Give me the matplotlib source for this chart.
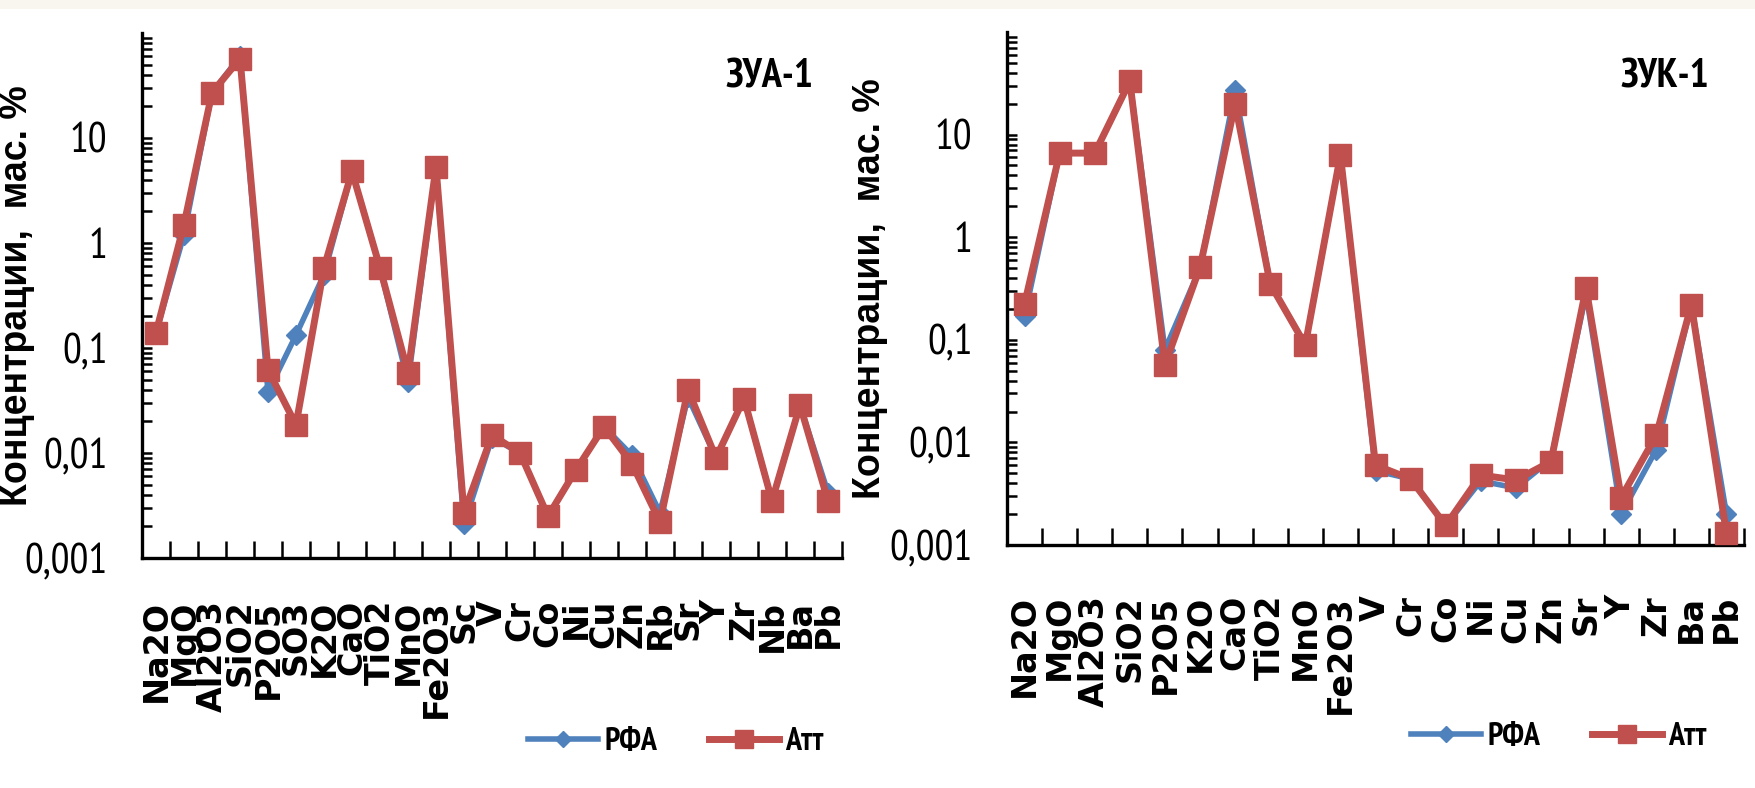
import matplotlib
matplotlib.use("Agg")
import matplotlib.pyplot as plt
import numpy as np
from matplotlib.ticker import LogLocator, NullFormatter, FixedLocator, FixedFormatter

# ---------------- data ----------------
cats_a = ["Na2O", "MgO", "Al2O3", "SiO2", "P2O5", "SO3", "K2O", "CaO", "TiO2", "MnO",
          "Fe2O3", "Sc", "V", "Cr", "Co", "Ni", "Cu", "Zn", "Rb", "Sr", "Y", "Zr",
          "Nb", "Ba", "Pb"]
rfa_a = [0.14, 1.2, 27, 60, 0.038, 0.133, 0.50, 4.8, 0.58, 0.047,
         5.3, 0.0021, 0.0140, 0.0100, 0.0025, 0.0069, 0.0178, 0.0095, 0.0027, 0.034,
         0.0090, 0.033, 0.0035, 0.0286, 0.0042]
att_a = [0.14, 1.5, 27, 57, 0.062, 0.0185, 0.58, 4.8, 0.58, 0.058,
         5.3, 0.0027, 0.0148, 0.0100, 0.0025, 0.0069, 0.0178, 0.0079, 0.0022, 0.040,
         0.0090, 0.033, 0.0035, 0.0286, 0.0035]

cats_k = ["Na2O", "MgO", "Al2O3", "SiO2", "P2O5", "K2O", "CaO", "TiO2", "MnO", "Fe2O3",
          "V", "Cr", "Co", "Ni", "Cu", "Zn", "Sr", "Y", "Zr", "Ba", "Pb"]
rfa_k = [0.17, 6.6, 6.6, 33, 0.080, 0.50, 27, 0.35, 0.089, 6.3,
         0.0053, 0.0044, 0.00155, 0.0042, 0.0036, 0.0068, 0.28, 0.0020, 0.0085, 0.22, 0.0020]
att_k = [0.224, 6.6, 6.6, 33, 0.057, 0.51, 20, 0.35, 0.089, 6.3,
         0.0060, 0.0044, 0.00155, 0.0048, 0.0043, 0.0065, 0.32, 0.0029, 0.0117, 0.22, 0.0013]

ytick_vals = [0.001, 0.01, 0.1, 1, 10]
ytick_labels = ["0,001", "0,01", "0,1", "1", "10"]
ylabel = "Концентрации,  мас. %"
series_names = ["РФА", "Атт"]
titles = ["ЗУА-1", "ЗУК-1"]

# ---------------- style ----------------
W, H = 1756, 788
DPI = 100
BLUE = "#4F81BD"
RED = "#C0504D"
NARROW = ["PT Sans Narrow", "Liberation Sans", "DejaVu Sans"]
LIB = ["Liberation Sans", "DejaVu Sans"]
DJ = ["DejaVu Sans"]

fig = plt.figure(figsize=(W / DPI, H / DPI), dpi=DPI)
fig.patch.set_facecolor("white")
fig.patches.append(plt.Rectangle((0, 1 - 9 / H), 1, 9 / H, transform=fig.transFigure,
                                 facecolor="#F8F6EE", edgecolor="none", zorder=0))


def px_axes(x0, y0, x1, y1):
    return fig.add_axes([x0 / W, 1 - y1 / H, (x1 - x0) / W, (y1 - y0) / H])


def draw(ax, cats, rfa, att, title, title_xy, ylab_x, legend_xy, lab_pad):
    n = len(cats)
    x = np.arange(n)
    ax.plot(x, rfa, color=BLUE, lw=4.0, marker="D", ms=10, mfc=BLUE, mec=BLUE,
            label=series_names[0], zorder=3)
    ax.plot(x, att, color=RED, lw=5.0, marker="s", ms=16, mfc=RED, mec=RED,
            label=series_names[1], zorder=4)
    ax.set_yscale("log")
    ax.set_ylim(0.001, 100)
    ax.set_xlim(-0.5, n - 0.5)
    for s in ["top", "right"]:
        ax.spines[s].set_visible(False)
    for s in ["left", "bottom"]:
        ax.spines[s].set_linewidth(2.4)
        ax.spines[s].set_color("black")
    ax.yaxis.set_major_locator(FixedLocator(ytick_vals))
    ax.yaxis.set_major_formatter(FixedFormatter(ytick_labels))
    ax.yaxis.set_minor_locator(LogLocator(base=10, subs=np.arange(2, 10), numticks=20))
    ax.yaxis.set_minor_formatter(NullFormatter())
    ax.tick_params(axis="y", which="both", direction="in", length=7, width=1.8,
                   pad=25, labelsize=30)
    for t in ax.get_yticklabels():
        t.set_fontfamily(NARROW)
    ax.set_xticks(x)
    ax.set_xticklabels(cats, rotation=90, fontsize=24, fontweight="bold",
                       fontfamily=DJ, va="top")
    ax.tick_params(axis="x", which="major", length=0, pad=lab_pad)
    ax.set_xticks(np.arange(0.5, n, 1), minor=True)
    ax.tick_params(axis="x", which="minor", direction="in", length=12, width=1.8)
    ax.set_ylabel(ylabel, fontsize=27, fontweight="bold", fontfamily=LIB)
    ax.yaxis.set_label_coords(ylab_x, 0.5)
    ax.text(title_xy[0] / W, 1 - title_xy[1] / H, title, transform=fig.transFigure,
            ha="center", va="center", fontsize=29, fontfamily=NARROW, fontweight="bold")
    ax.legend(loc="center", bbox_to_anchor=(legend_xy[0] / W, 1 - legend_xy[1] / H),
              bbox_transform=fig.transFigure, ncol=2, frameon=False,
              prop={"family": NARROW, "weight": "bold", "size": 23},
              handlelength=2.2, handletextpad=0.2, columnspacing=1.6,
              markerscale=0.8)


axA = px_axes(142, 33, 842, 558)
draw(axA, cats_a, rfa_a, att_a, titles[0], (769, 77), (35 - 142) / 700, (676, 742), 30)

axK = px_axes(1007, 32, 1744, 545)
draw(axK, cats_k, rfa_k, att_k, titles[1], (1665, 77), (888 - 1007) / 737, (1559, 737), 36)

fig.savefig("out.png", dpi=DPI)
